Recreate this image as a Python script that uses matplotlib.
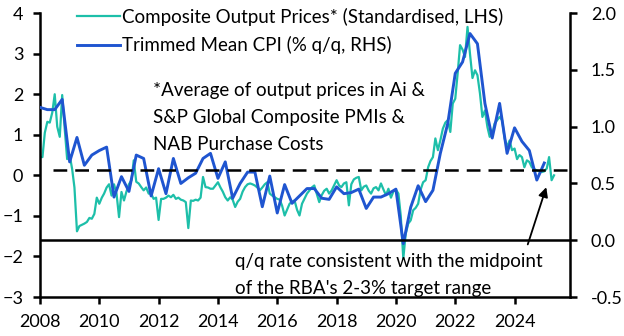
import matplotlib
matplotlib.use("Agg")
import matplotlib.pyplot as plt
import pandas as pd

plt.rcParams['font.family'] = ['Lato', 'DejaVu Sans']

# Composite output prices, monthly from Jan 2008 (standardised, LHS)
output_2008 = [0.45, 0.45, 1.05, 1.32, 1.30, 1.55, 2.00, 1.20, 0.95, 1.98, 1.15, 0.40]
output_2009 = [0.50, 0.15, -0.30, -1.38, -1.25, -1.22, -1.19, -1.15, -1.05, -1.07, -0.95, -0.55]
output_2010 = [-0.70, -0.55, -0.45, -0.30, -0.22, -0.50, -0.22, -0.45, -1.03, -0.41, -0.62, -0.40]
output_2011 = [-0.22, -0.12, 0.37, -0.16, -0.20, -0.29, -0.37, -0.30, -0.45, -0.45, -0.58, -0.55]
output_2012 = [-1.10, -0.58, -0.58, -0.55, -0.50, -0.54, -0.48, -0.58, -0.55, -0.60, -0.62, -0.66]
output_2013 = [-1.30, -0.62, -0.63, -0.60, -0.62, -0.55, -0.04, -0.29, -0.30, -0.33, -0.33, -0.25]
output_2014 = [-0.17, -0.30, -0.40, -0.54, -0.62, -0.54, -0.60, -0.78, -0.65, -0.58, -0.40, -0.29]
output_2015 = [-0.22, -0.20, -0.22, -0.25, -0.30, -0.37, -0.30, -0.22, -0.17, -0.45, -0.50, -0.54]
output_2016 = [-0.58, -0.60, -0.75, -0.99, -0.85, -0.70, -0.65, -0.62, -0.85, -0.99, -0.70, -0.58]
output_2017 = [-0.45, -0.37, -0.30, -0.25, -0.45, -0.66, -0.49, -0.38, -0.33, -0.45, -0.37, -0.25]
output_2018 = [-0.12, -0.25, -0.29, -0.20, -0.17, -0.74, -0.22, -0.10, -0.06, -0.04, -0.37, -0.28]
output_2019 = [-0.25, -0.38, -0.45, -0.32, -0.29, -0.37, -0.20, -0.35, -0.49, -0.33, -0.55, -0.40]
output_2020 = [-0.35, -0.45, -1.00, -2.05, -1.44, -1.19, -1.11, -0.86, -0.80, -0.70, -0.35, -0.17]
output_2021 = [-0.12, 0.20, 0.35, 0.45, 0.91, 0.62, 0.86, 1.15, 1.30, 1.36, 1.07, 1.77]
output_2022 = [1.89, 2.55, 3.21, 3.10, 2.92, 3.66, 3.00, 2.40, 2.59, 2.47, 2.02, 1.44]
output_2023 = [1.60, 1.19, 0.95, 1.03, 1.28, 1.36, 1.44, 1.36, 0.91, 0.70, 0.86, 0.62]
output_2024 = [0.66, 0.40, 0.50, 0.45, 0.20, 0.37, 0.33, 0.20, 0.15, 0.12, 0.10, 0.08]
output_2025 = [0.10, 0.17, 0.45, -0.12, 0.00]

output_prices = (output_2008 + output_2009 + output_2010 + output_2011 + output_2012
                 + output_2013 + output_2014 + output_2015 + output_2016 + output_2017
                 + output_2018 + output_2019 + output_2020 + output_2021 + output_2022
                 + output_2023 + output_2024 + output_2025)
months = pd.date_range("2008-01-01", periods=len(output_prices), freq="MS")

# Trimmed mean CPI, % q/q, quarterly from Q1 2008 (RHS)
trimmed_mean = [1.17, 1.15, 1.15, 1.24,
                0.69, 0.905, 0.66, 0.75,
                0.79, 0.82, 0.38, 0.56,
                0.43, 0.75, 0.72, 0.39,
                0.63, 0.41, 0.72, 0.50,
                0.55, 0.59, 0.72, 0.765,
                0.545, 0.69, 0.37, 0.50,
                0.60, 0.60, 0.295, 0.565,
                0.24, 0.49, 0.325, 0.39,
                0.455, 0.455, 0.37, 0.36,
                0.47, 0.41, 0.42, 0.45,
                0.28, 0.38, 0.38, 0.41,
                0.45, -0.03, 0.29, 0.48,
                0.34, 0.44, 0.765, 1.03,
                1.47, 1.57, 1.82, 1.73,
                1.205, 0.90, 1.205, 0.765,
                0.99, 0.87, 0.79, 0.53,
                0.68]
quarters = pd.date_range("2008-01-01", periods=len(trimmed_mean), freq="QS")

rba_midpoint = 0.615  # q/q rate consistent with 2.5% y/y
year_ticks = [2008, 2010, 2012, 2014, 2016, 2018, 2020, 2022, 2024]

teal = "#1dbfa9"
blue = "#1f55d0"

fig = plt.figure(figsize=(6.24, 3.36), dpi=100)
ax = fig.add_axes([0.064, 0.116, 0.8495, 0.845])
ax2 = ax.twinx()

l1, = ax.plot(months, output_prices, color=teal, lw=1.6)
l2, = ax2.plot(quarters, trimmed_mean, color=blue, lw=2.1)

x0 = pd.Timestamp("2008-01-01")
x1 = pd.Timestamp("2025-11-14")
ax2.axhline(0, color="black", lw=1.8)
ax2.plot([pd.Timestamp("2008-06-10"), x1], [rba_midpoint, rba_midpoint],
         color="black", lw=1.8, dashes=(5.5, 3.2))

ax.set_xlim(x0, x1)
ax.set_ylim(-3, 4)
ax2.set_ylim(-0.5, 2.0)
ax.set_yticks(range(-3, 5))
ax2.set_yticks([-0.5, 0.0, 0.5, 1.0, 1.5, 2.0])
ax2.set_yticklabels(["-0.5", "0.0", "0.5", "1.0", "1.5", "2.0"])
ax.set_xticks([pd.Timestamp(f"{y}-01-01") for y in year_ticks])
ax.set_xticklabels([str(y) for y in year_ticks])

for a in (ax, ax2):
    a.spines["top"].set_visible(False)
    for s in ("left", "right", "bottom"):
        a.spines[s].set_linewidth(1.8)
    a.tick_params(length=5, width=1.8, labelsize=13, pad=7)
ax2.tick_params(axis="y", pad=10)
ax.spines["right"].set_visible(False)
ax2.spines["left"].set_visible(False)
ax2.spines["bottom"].set_visible(False)

ax2.legend([l1, l2], ["Composite Output Prices* (Standardised, LHS)",
                      "Trimmed Mean CPI (% q/q, RHS)"],
           loc="upper left", bbox_to_anchor=(0.0698, 1.018), frameon=False,
           fontsize=13.5, handlelength=2.3, handletextpad=0.12, labelspacing=0.55,
           borderaxespad=0, borderpad=0)

ax2.text(0.2132, 0.632, "*Average of output prices in Ai &\nS&P Global Composite PMIs &\nNAB Purchase Costs",
         transform=ax2.transAxes, fontsize=13.5, va="center", ha="left", linespacing=1.7)
ax2.text(0.368, 0.0775, "q/q rate consistent with the midpoint\nof the RBA's 2-3% target range",
         transform=ax2.transAxes, fontsize=13.5, va="center", ha="left", linespacing=1.67)
ax2.annotate("", xy=(pd.Timestamp("2025-02-05"), 0.49), xytext=(pd.Timestamp("2024-06-01"), -0.06),
             arrowprops=dict(arrowstyle="-|>", color="black", lw=1.3, mutation_scale=14))

fig.savefig("out.png", dpi=100)
